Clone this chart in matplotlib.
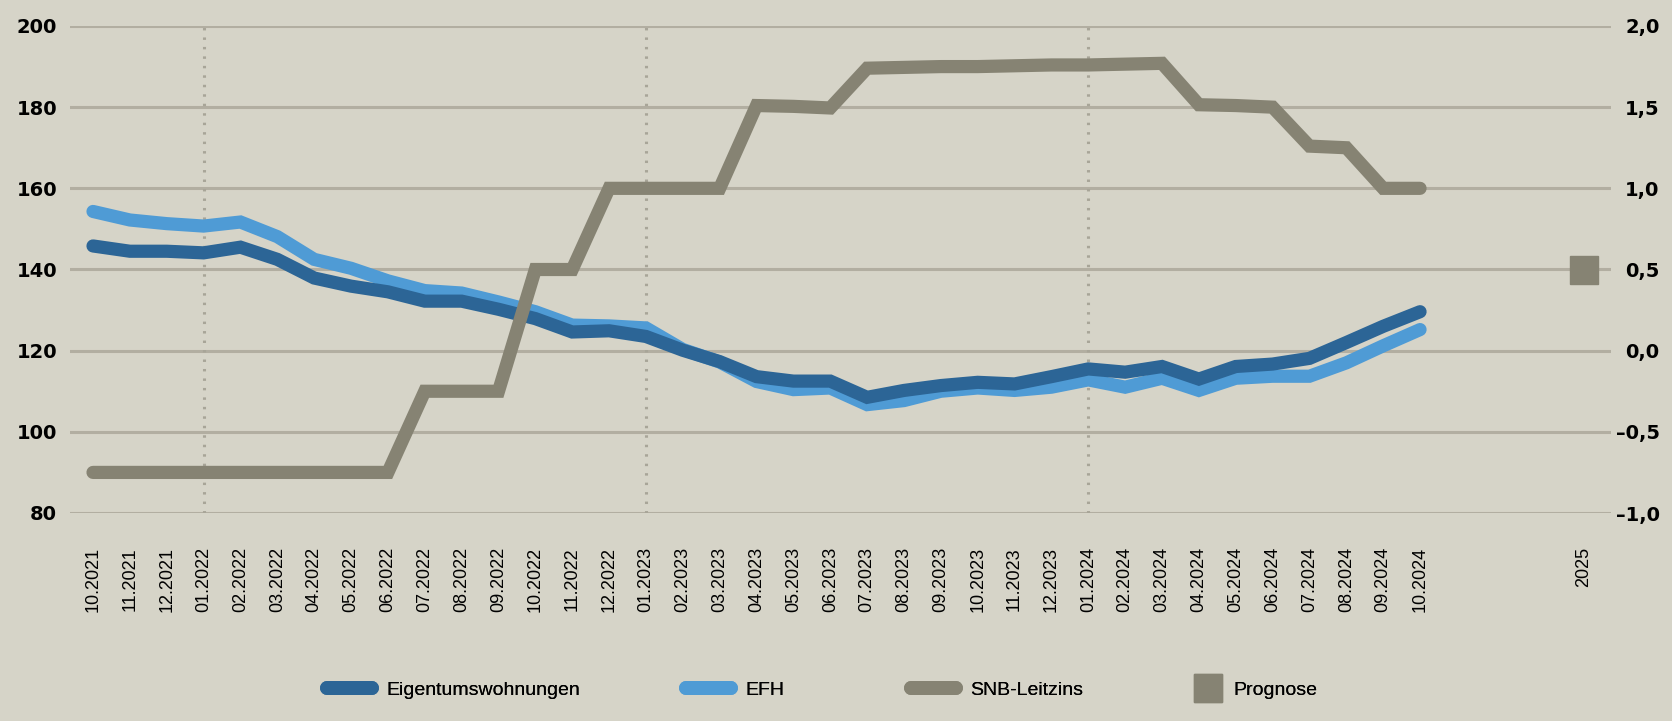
import matplotlib
matplotlib.use('Agg')
import matplotlib.pyplot as plt
from matplotlib.lines import Line2D
import numpy as np

months = ['10.2021', '11.2021', '12.2021', '01.2022', '02.2022', '03.2022', '04.2022',
          '05.2022', '06.2022', '07.2022', '08.2022', '09.2022', '10.2022', '11.2022',
          '12.2022', '01.2023', '02.2023', '03.2023', '04.2023', '05.2023', '06.2023',
          '07.2023', '08.2023', '09.2023', '10.2023', '11.2023', '12.2023', '01.2024',
          '02.2024', '03.2024', '04.2024', '05.2024', '06.2024', '07.2024', '08.2024',
          '09.2024', '10.2024']

eigentum = [145.8, 144.5, 144.5, 144.1, 145.5, 142.5, 137.9, 135.9, 134.5, 132.2, 132.2,
            130.2, 127.9, 124.6, 124.9, 123.5, 120.1, 117.3, 113.6, 112.5, 112.5, 108.5,
            110.2, 111.4, 112.2, 111.8, 113.6, 115.5, 114.7, 116.1, 113.0, 116.1, 116.7,
            118.1, 122.0, 126.0, 129.6]

efh = [154.3, 152.2, 151.3, 150.7, 151.7, 148.1, 142.5, 140.3, 137.2, 134.8, 134.2,
       132.0, 129.6, 126.3, 126.1, 125.6, 120.3, 117.2, 112.4, 110.4, 110.8, 106.7,
       107.7, 110.0, 110.8, 110.2, 111.0, 112.8, 111.0, 113.2, 110.2, 113.2, 113.7,
       113.7, 117.0, 121.2, 125.2]

snb = [-0.75, -0.75, -0.75, -0.75, -0.75, -0.75, -0.75, -0.75, -0.75, -0.25, -0.25,
       -0.25, 0.5, 0.5, 1.0, 1.0, 1.0, 1.0, 1.51, 1.505, 1.495, 1.74, 1.745, 1.75,
       1.75, 1.755, 1.76, 1.76, 1.765, 1.77, 1.515, 1.51, 1.5, 1.26, 1.25, 1.0, 1.0]

prognose_label = '2025'
prognose_pos = 40.44
prognose = 0.5

year_marks = ['01.2022', '01.2023', '01.2024']

bg = '#d6d4c8'
dark = '#2c6596'
light = '#4f9bd5'
gray = '#868373'
gridc = '#b2aea1'

fig = plt.figure(figsize=(16.72, 7.21), dpi=100, facecolor=bg)
ax = fig.add_axes([70 / 1672, 1 - 513 / 721, (1611 - 70) / 1672, (513 - 26) / 721])
ax.set_facecolor(bg)
ax2 = ax.twinx()
ax2.patch.set_visible(False)

x = np.arange(len(months))
style = dict(lw=9.5, solid_capstyle='round', solid_joinstyle='miter')
ax.plot(x, efh, color=light, zorder=3, **style)
ax.plot(x, eigentum, color=dark, zorder=4, **style)
ax2.plot(x, snb, color=gray, zorder=5, **style)
ax2.plot([prognose_pos], [prognose], marker='s', ms=19.5, color=gray, ls='none')

ax.set_ylim(80, 200)
ax2.set_ylim(-1, 2)
ax.set_xlim(-0.624, 41.18)

ax.set_yticks(range(80, 201, 20))
ax.yaxis.grid(True, color=gridc, lw=2.2)
ax.set_axisbelow(True)
rt = [-1, -0.5, 0, 0.5, 1, 1.5, 2]
ax2.set_yticks(rt, [('%.1f' % v).replace('.', ',').replace('-', '\u2013') for v in rt])

for m in year_marks:
    ax.vlines(months.index(m), 80, 200, colors='#a8a598', lw=2.2,
              linestyles=(0, (0.8, 2.3)), zorder=1)

for s in ax.spines.values():
    s.set_visible(False)
for s in ax2.spines.values():
    s.set_visible(False)

tick_font = dict(family=['DejaVu Sans'], weight='bold', size=14)
ax.tick_params(axis='y', length=0, pad=9.4)
ax2.tick_params(axis='y', length=0, pad=35)
for lab in ax.get_yticklabels():
    lab.set_fontproperties(tick_font)
for lab in ax2.get_yticklabels():
    lab.set_fontproperties(tick_font)
    lab.set_ha('right')

ax.set_xticks(list(x) + [prognose_pos], months + [prognose_label], rotation=90,
              fontfamily=['Liberation Sans', 'DejaVu Sans'], fontsize=13)
ax.tick_params(axis='x', length=0, pad=24.5)

# legend: one entry per legend so each sits where the original puts it
leg_font = dict(family=['Liberation Sans', 'DejaVu Sans'], size=14)
entries = [
    (Line2D([], [], color=dark, lw=10, solid_capstyle='round'), 'Eigentumswohnungen', 327, 2.3, 0.75),
    (Line2D([], [], color=light, lw=10, solid_capstyle='round'), 'EFH', 686, 2.3, 0.75),
    (Line2D([], [], color=gray, lw=10, solid_capstyle='round'), 'SNB-Leitzins', 911, 2.3, 0.75),
    (Line2D([], [], color=gray, marker='s', ms=19.5, ls='none'), 'Prognose', 1194, 1.39, 0.62),
]
for h, lab, px, hl, tp in entries:
    lg = fig.legend([h], [lab], loc='center left', bbox_to_anchor=(px / 1672, 1 - 690 / 721),
                    frameon=False, borderpad=0, borderaxespad=0, handlelength=hl,
                    handletextpad=tp, prop=leg_font)
    fig.add_artist(lg)

fig.savefig('out.png', dpi=100, facecolor=bg)
